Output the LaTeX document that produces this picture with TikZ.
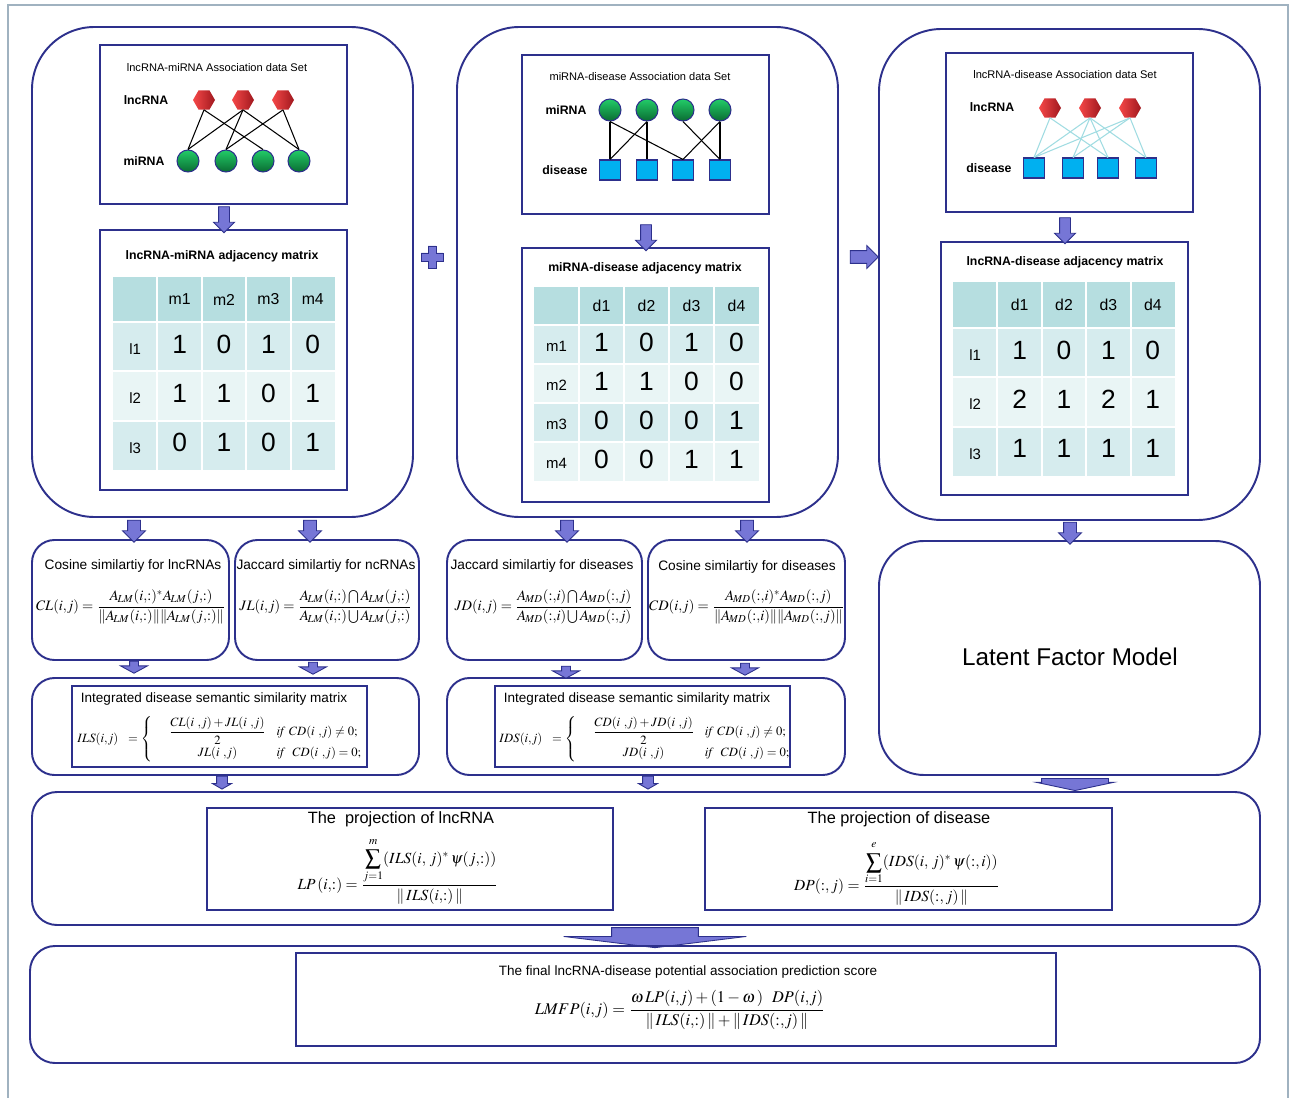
\documentclass[tikz,border=0pt]{standalone}
\usepackage{amsmath}
\usepackage{mathptmx}
\usepackage{fontspec}
\setmainfont{Liberation Sans}
\usetikzlibrary{shapes.geometric,shapes.arrows,fit}

\definecolor{navy}{RGB}{45,48,140}
\definecolor{arrowfill}{RGB}{118,118,214}
\definecolor{headfill}{RGB}{182,222,224}
\definecolor{rowa}{RGB}{214,236,238}
\definecolor{rowb}{RGB}{233,245,245}
\definecolor{hexlight}{RGB}{245,72,72}
\definecolor{hexdark}{RGB}{160,24,30}
\definecolor{ballhi}{RGB}{34,204,104}
\definecolor{balllo}{RGB}{10,108,50}
\definecolor{sqcyan}{RGB}{0,176,240}
\definecolor{palelink}{RGB}{160,220,226}
\definecolor{framegray}{RGB}{160,178,192}

\tikzset{
  panel/.style={draw=navy, line width=1.1pt, inner sep=0pt},
  bigpanel/.style={panel, rounded corners=1.25cm},
  simpanel/.style={panel, rounded corners=0.45cm},
  framebox/.style={draw=navy, line width=1.1pt, inner sep=0pt, fill=white},
  hexnode/.style={regular polygon, regular polygon sides=6, minimum size=0.44cm,
    inner sep=0pt, left color=hexlight, right color=hexdark},
  ballnode/.style={circle, minimum size=0.44cm, inner sep=0pt,
    top color=ballhi, bottom color=balllo, draw=navy, line width=0.6pt},
  boxnode/.style={rectangle, minimum width=0.42cm, minimum height=0.4cm,
    inner sep=0pt, fill=sqcyan, draw=navy, line width=0.6pt},
  wire/.style={line width=0.6pt, black},
  palewire/.style={line width=0.6pt, palelink},
  gridline/.style={white, line width=1.2pt},
  settitle/.style={font=\fontsize{6.3}{7}\selectfont, inner sep=0pt},
  kindlabel/.style={font=\fontsize{7}{8}\selectfont\bfseries, inner sep=0pt},
  mattitle/.style={font=\fontsize{7}{8}\selectfont\bfseries, inner sep=0pt},
  headlab/.style={font=\fontsize{9}{10}\selectfont, inner sep=0pt},
  rowlab/.style={font=\fontsize{8.5}{10}\selectfont, inner sep=0pt},
  cellnum/.style={font=\fontsize{15}{16}\selectfont, inner sep=0pt},
  simtitle/.style={font=\fontsize{7.8}{9}\selectfont, inner sep=0pt},
  inttitle/.style={font=\fontsize{7.7}{9}\selectfont, inner sep=0pt},
  formula/.style={font=\fontsize{8.2}{9}\selectfont, inner sep=0pt},
  caseformula/.style={font=\fontsize{7.2}{8}\selectfont, inner sep=0pt},
  projformula/.style={font=\fontsize{8.8}{10}\selectfont, inner sep=0pt},
  bigtitle/.style={font=\fontsize{9.3}{10}\selectfont, inner sep=0pt},
  blockarrow/.style={single arrow, fill=arrowfill, draw=navy, line width=0.5pt,
    inner xsep=0pt, minimum width=0pt},
}

% adjacency matrix drawn as a shaded table with white rules
% #1 prefix, #2 left, #3 top, #4 column width, #5 header height,
% #6 row height, #7 column labels, #8 rows, #9 number of rows
\newcommand{\adjmatrix}[9]{%
  \fill[headfill] (#2,#3) rectangle ++({5*#4},#5);
  \foreach \rowvals [count=\r] in {#8}{%
    \pgfmathsetmacro{\ytop}{#3+#5+(\r-1)*#6}%
    \pgfmathtruncatemacro{\parity}{mod(\r,2)}%
    \ifnum\parity=1\relax
      \fill[rowa] (#2,\ytop) rectangle ++({5*#4},#6);%
    \else
      \fill[rowb] (#2,\ytop) rectangle ++({5*#4},#6);%
    \fi
    \foreach \v [count=\c from 0] in \rowvals{%
      \ifnum\c=0\relax
        \node[rowlab] (#1-\r-\c) at ({#2+(\c+0.5)*#4},{\ytop+0.55*#6}) {\v};%
      \else
        \node[cellnum] (#1-\r-\c) at ({#2+(\c+0.5)*#4},{\ytop+0.45*#6}) {\v};%
      \fi
    }%
  }%
  \foreach \h [count=\c] in {#7}{%
    \node[headlab] (#1-h-\c) at ({#2+(\c+0.5)*#4},{#3+0.5*#5}) {\h};%
  }%
  \foreach \c in {1,...,4}{%
    \draw[gridline] ({#2+\c*#4},#3) -- ++(0,{#5+#9*#6});%
  }%
  \foreach \r in {1,...,#9}{%
    \draw[gridline] (#2,{#3+#5+(\r-1)*#6}) -- ++({5*#4},0);%
  }%
}

\begin{document}
\begin{tikzpicture}[x=0.02cm,y=-0.02cm]
\useasboundingbox (0,0) rectangle (1295,1098);
\fill[white] (0,0) rectangle (1295,1098);
\draw[framegray, line width=0.8pt] (8,1098) -- (8,5) -- (1288,5) -- (1288,1098);

% ---------- three input panels ----------
\node[bigpanel, fit={(32,27) (413,517)}] (colA) {};
\node[bigpanel, fit={(457,27) (838,517)}] (colB) {};
\node[bigpanel, fit={(879,29) (1260,520)}] (colC) {};

% lncRNA-miRNA
\node[framebox, fit={(100,45) (347,204)}] (setA) {};
\node[settitle] (setAt) at (217,68) {lncRNA-miRNA Association data Set};
\node[kindlabel] (kA1) at (146,100) {lncRNA};
\node[kindlabel] (kA2) at (144,161) {miRNA};
\node[hexnode] (ah1) at (204,100) {};
\node[hexnode] (ah2) at (243,100) {};
\node[hexnode] (ah3) at (283,100) {};
\node[ballnode] (ac1) at (188,161) {};
\node[ballnode] (ac2) at (226,161) {};
\node[ballnode] (ac3) at (263,161) {};
\node[ballnode] (ac4) at (299,161) {};
\draw[wire] (ah1.south) -- (ac1.north);
\draw[wire] (ah1.south) -- (ac3.north);
\draw[wire] (ah2.south) -- (ac1.north);
\draw[wire] (ah2.south) -- (ac2.north);
\draw[wire] (ah2.south) -- (ac4.north);
\draw[wire] (ah3.south) -- (ac2.north);
\draw[wire] (ah3.south) -- (ac4.north);

\node[framebox, fit={(100,230) (347,490)}] (matA) {};
\node[mattitle] (matAt) at (222,256) {lncRNA-miRNA adjacency matrix};
\adjmatrix{tA}{113}{277}{44.4}{45}{49.3}{m1,m2,m3,m4}{{l1,1,0,1,0},{l2,1,1,0,1},{l3,0,1,0,1}}{3}

% miRNA-disease
\node[framebox, fit={(522,55) (769,214)}] (setB) {};
\node[settitle] (setBt) at (640,77) {miRNA-disease Association data Set};
\node[kindlabel] (kB1) at (566,110) {miRNA};
\node[kindlabel] (kB2) at (565,170) {disease};
\node[ballnode] (bc1) at (610,110) {};
\node[ballnode] (bc2) at (647,110) {};
\node[ballnode] (bc3) at (683,110) {};
\node[ballnode] (bc4) at (720,110) {};
\node[boxnode] (bs1) at (610,170) {};
\node[boxnode] (bs2) at (647,170) {};
\node[boxnode] (bs3) at (683,170) {};
\node[boxnode] (bs4) at (720,170) {};
\draw[wire] (bc1.south) -- (bs1.north);
\draw[wire] (bc1.south) -- (bs3.north);
\draw[wire] (bc2.south) -- (bs1.north);
\draw[wire] (bc2.south) -- (bs2.north);
\draw[wire] (bc3.south) -- (bs4.north);
\draw[wire] (bc4.south) -- (bs3.north);
\draw[wire] (bc4.south) -- (bs4.north);

\node[framebox, fit={(522,248) (769,502)}] (matB) {};
\node[mattitle] (matBt) at (645,268) {miRNA-disease adjacency matrix};
\adjmatrix{tB}{534}{287}{45}{38}{39}{d1,d2,d3,d4}{{m1,1,0,1,0},{m2,1,1,0,0},{m3,0,0,0,1},{m4,0,0,1,1}}{4}

% lncRNA-disease
\node[framebox, fit={(946,53) (1193,212)}] (setC) {};
\node[settitle] (setCt) at (1065,75) {lncRNA-disease Association data Set};
\node[kindlabel] (kC1) at (992,107) {lncRNA};
\node[kindlabel] (kC2) at (989,168) {disease};
\node[hexnode] (ch1) at (1050,108) {};
\node[hexnode] (ch2) at (1090,108) {};
\node[hexnode] (ch3) at (1130,108) {};
\node[boxnode] (cs1) at (1034,168) {};
\node[boxnode] (cs2) at (1073,168) {};
\node[boxnode] (cs3) at (1108,168) {};
\node[boxnode] (cs4) at (1146,168) {};
\draw[palewire] (ch1.south) -- (cs1.north);
\draw[palewire] (ch1.south) -- (cs3.north);
\draw[palewire] (ch2.south) -- (cs1.north);
\draw[palewire] (ch2.south) -- (cs2.north);
\draw[palewire] (ch2.south) -- (cs3.north);
\draw[palewire] (ch2.south) -- (cs4.north);
\draw[palewire] (ch3.south) -- (cs1.north);
\draw[palewire] (ch3.south) -- (cs2.north);
\draw[palewire] (ch3.south) -- (cs4.north);

\node[framebox, fit={(941,242) (1188,495)}] (matC) {};
\node[mattitle] (matCt) at (1065,262) {lncRNA-disease adjacency matrix};
\adjmatrix{tC}{953}{282}{44.4}{46}{49.3}{d1,d2,d3,d4}{{l1,1,0,1,0},{l2,2,1,2,1},{l3,1,1,1,1}}{3}

% arrows from data sets to matrices
\node[blockarrow, rotate=-90, minimum height=0.52cm, inner ysep=0.1cm,
  single arrow head extend=0.1cm] (arA) at (224,217) {};
\node[blockarrow, rotate=-90, minimum height=0.52cm, inner ysep=0.1cm,
  single arrow head extend=0.1cm] (arB) at (646,235) {};
\node[blockarrow, rotate=-90, minimum height=0.52cm, inner ysep=0.1cm,
  single arrow head extend=0.1cm] (arC) at (1065,228) {};

% plus and combine arrow between the panels
\filldraw[fill=arrowfill, draw=navy, line width=0.5pt]
  (428,246) -- (436,246) -- (436,253) -- (443,253) -- (443,261) -- (436,261)
  -- (436,268) -- (428,268) -- (428,261) -- (421,261) -- (421,253) -- (428,253) -- cycle;
\node[blockarrow, minimum height=0.56cm, inner ysep=0.12cm,
  single arrow head extend=0.1cm] (arBC) at (861,257) {};

% ---------- similarity panels ----------
\node[simpanel, fit={(32,540) (229,660)}] (simCL) {};
\node[simpanel, fit={(235,540) (419,660)}] (simJL) {};
\node[simpanel, fit={(447,540) (642,660)}] (simJD) {};
\node[simpanel, fit={(648,540) (845,660)}] (simCD) {};
\node[panel, rounded corners=0.9cm, fit={(879,541) (1260,775)}] (lfm) {};

\node[simtitle] (simCLt) at (133,566) {Cosine similartiy for lncRNAs};
\node[simtitle] (simJLt) at (326,566) {Jaccard similartiy for ncRNAs};
\node[simtitle] (simJDt) at (542,566) {Jaccard similartiy for diseases};
\node[simtitle] (simCDt) at (747,567) {Cosine similartiy for diseases};

\node[formula] (fCL) at (131,607)
  {$CL(i{,}j)=\dfrac{A_{\!LM}(i{,}{:})^{*}A_{\!LM}(j{,}{:})}{\|A_{\!LM}(i{,}{:})\|\|A_{\!LM}(j{,}{:})\|}$};
\node[formula] (fJL) at (326,607)
  {$JL(i{,}j)=\dfrac{A_{\!LM}(i{,}{:})\bigcap A_{\!LM}(j{,}{:})}{A_{\!LM}(i{,}{:})\bigcup A_{\!LM}(j{,}{:})}$};
\node[formula] (fJD) at (544,607)
  {$JD(i{,}j)=\dfrac{A_{\!MD}({:}{,}i)\bigcap A_{\!MD}({:}{,}j)}{A_{\!MD}({:}{,}i)\bigcup A_{\!MD}({:}{,}j)}$};
\node[formula] (fCD) at (747,607)
  {$CD(i{,}j)=\dfrac{A_{\!MD}({:}{,}i)^{*}A_{\!MD}({:}{,}j)}{\|A_{\!MD}({:}{,}i)\|\|A_{\!MD}({:}{,}j)\|}$};

\node[font=\fontsize{13.8}{15}\selectfont, inner sep=0pt] (lfmt) at (1070,657) {Latent Factor Model};

\node[blockarrow, rotate=-90, minimum height=0.44cm, inner ysep=0.12cm,
  single arrow head extend=0.1cm] (arCL) at (134,528) {};
\node[blockarrow, rotate=-90, minimum height=0.44cm, inner ysep=0.12cm,
  single arrow head extend=0.1cm] (arJL) at (310,528) {};
\node[blockarrow, rotate=-90, minimum height=0.44cm, inner ysep=0.12cm,
  single arrow head extend=0.1cm] (arJD) at (567,528) {};
\node[blockarrow, rotate=-90, minimum height=0.44cm, inner ysep=0.12cm,
  single arrow head extend=0.1cm] (arCD) at (747,528) {};
\node[blockarrow, rotate=-90, minimum height=0.44cm, inner ysep=0.12cm,
  single arrow head extend=0.1cm] (arLF) at (1070,530) {};

% ---------- integrated similarity panels ----------
\node[simpanel, fit={(32,678) (419,775)}] (intL) {};
\node[simpanel, fit={(447,678) (845,775)}] (intD) {};
\node[framebox, fit={(72,686) (367,767)}] (intLb) {};
\node[framebox, fit={(495,686) (790,767)}] (intDb) {};
\node[inttitle] (intLt) at (214,699) {Integrated disease semantic similarity matrix};
\node[inttitle] (intDt) at (637,699) {Integrated disease semantic similarity matrix};
\node[caseformula, anchor=west] (fILS) at (77,739)
  {$ILS(i{,}j)\ \ =\left\{\begin{array}{@{\hspace{1.3em}}c@{\hspace{0.8em}}l}
   \dfrac{CL(i\ {,}j)+JL(i\ {,}j)}{2} & \mathit{if}\ CD(i\ {,}j)\neq 0;\\[4pt]
   JL(i\ {,}j) & \mathit{if}\ \ CD(i\ {,}j)=0;\end{array}\right.$};
\node[caseformula, anchor=west] (fIDS) at (499,739)
  {$IDS(i{,}j)\ \ =\left\{\begin{array}{@{\hspace{1.3em}}c@{\hspace{0.8em}}l}
   \dfrac{CD(i\ {,}j)+JD(i\ {,}j)}{2} & \mathit{if}\ CD(i\ {,}j)\neq 0;\\[4pt]
   JD(i\ {,}j) & \mathit{if}\ \ CD(i\ {,}j)=0;\end{array}\right.$};

\node[blockarrow, rotate=-90, minimum height=0.24cm, inner ysep=0.08cm,
  single arrow head extend=0.18cm, single arrow tip angle=123] (arCLi) at (134,666) {};
\node[blockarrow, rotate=-90, minimum height=0.24cm, inner ysep=0.08cm,
  single arrow head extend=0.18cm, single arrow tip angle=123] (arJLi) at (313,667) {};
\node[blockarrow, rotate=-90, minimum height=0.24cm, inner ysep=0.08cm,
  single arrow head extend=0.18cm, single arrow tip angle=123] (arJDi) at (566,671) {};
\node[blockarrow, rotate=-90, minimum height=0.24cm, inner ysep=0.08cm,
  single arrow head extend=0.18cm, single arrow tip angle=123] (arCDi) at (745,668) {};

\node[blockarrow, rotate=-90, minimum height=0.26cm, inner ysep=0.1cm,
  single arrow head extend=0.08cm, single arrow tip angle=120] (arIL) at (222,781) {};
\node[blockarrow, rotate=-90, minimum height=0.26cm, inner ysep=0.1cm,
  single arrow head extend=0.08cm, single arrow tip angle=120] (arID) at (648,781) {};
\node[blockarrow, rotate=-90, minimum height=0.24cm, inner ysep=0.66cm,
  single arrow head extend=0.1cm, single arrow tip angle=156] (arLFo) at (1075,781) {};

% ---------- projections ----------
\node[panel, rounded corners=0.5cm, fit={(32,792) (1260,925)}] (proj) {};
\node[framebox, fit={(207,808) (613,910)}] (projL) {};
\node[framebox, fit={(705,808) (1112,910)}] (projD) {};
\node[bigtitle] (projLt) at (401,819) {The\ \ projection of lncRNA};
\node[bigtitle] (projDt) at (899,819) {The projection of disease};
\node[projformula] (fLP) at (398,871)
  {$LP\,(i{,}{:})=\dfrac{\displaystyle\sum_{j=1}^{\raisebox{1.5pt}{$\scriptstyle m$}}(ILS(i,\,j)^{*}\,\psi(j{,}{:}))}{\|\,ILS(i{,}{:})\,\|}$};
\node[projformula] (fDP) at (897,873)
  {$DP({:}{,}\,j)=\dfrac{\displaystyle\sum_{i=1}^{\raisebox{1.5pt}{$\scriptstyle e$}}(IDS(i,\,j)^{*}\,\psi({:}{,}\,i))}{\|\,IDS({:}{,}\,j)\,\|}$};

\node[blockarrow, rotate=-90, minimum height=0.4cm, inner ysep=0.86cm,
  single arrow head extend=0.96cm, single arrow tip angle=166] (arPr) at (655,935) {};

% ---------- final score ----------
\node[panel, rounded corners=0.5cm, fit={(30,946) (1260,1063)}] (final) {};
\node[framebox, fit={(296,953) (1056,1046)}] (finalb) {};
\node[inttitle] (finalt) at (688,972)
  {The final lncRNA-disease potential association prediction score};
\node[projformula, font=\fontsize{9.3}{10}\selectfont] (fLMFP) at (680,1010)
  {$LMFP(i{,}j)=\dfrac{\omega\,LP(i{,}j)+(1-\omega\,)\ \ DP(i{,}j)}{\|\,ILS(i{,}{:})\,\|+\|\,IDS({:}{,}j)\,\|}$};
\end{tikzpicture}
\end{document}
